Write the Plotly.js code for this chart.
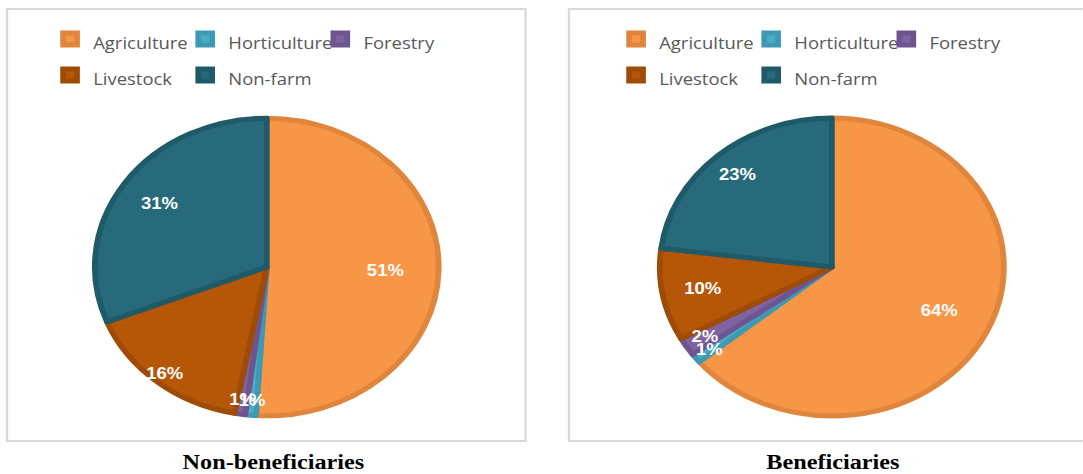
<!DOCTYPE html>
<html><head><meta charset="utf-8">
<script src="https://cdn.plot.ly/plotly-3.0.1.min.js"></script>
<style>
body{margin:0;background:#fff;overflow:hidden;}
.half{position:absolute;top:0;height:474px;transform-origin:0 0;}
</style>
</head><body>
<div id="left" class="half"></div><div id="right" class="half"></div>
<script>
// ---- data ----
const categories = ['Agriculture', 'Horticulture', 'Forestry', 'Livestock', 'Non-farm'];
const nonBeneficiaries = [51, 1, 1, 16, 31];
const beneficiaries = [64, 1, 2, 10, 23];
const groupTitles = ['Non-beneficiaries', 'Beneficiaries'];
const fillColors = ['#F79646', '#4BACC6', '#8064A2', '#B65708', '#276A7C'];
const edgeColors = ['#E0863C', '#3E9AB3', '#6F5590', '#9E4B06', '#1F5A69'];

// ---- layout helpers (screen px -> native) ----
const S = 1.155;           // horizontal stretch of the reference
const H = 474;

function drawHalf(id, divLeft, divWidth, values, title, g) {
  const el = document.getElementById(id);
  const W = divWidth / S;
  const ML = g.ml, MR = g.mr;
  el.style.left = divLeft + 'px';
  el.style.width = W + 'px';
  el.style.transform = 'scaleX(' + S + ')';
  const gw = W - ML - MR;
  const nat = sx => (sx - divLeft) / S;
  const px = sx => (nat(sx) - ML) / gw;
  const py = sy => (H - sy) / H;
  const dom = r => ({
    x: [(nat(g.cx) - r - ML) / gw, (nat(g.cx) + r - ML) / gw],
    y: [(H - g.cy - r) / H, (H - g.cy + r) / H]
  });
  const legendLabels = categories.map(c => '<span style="font-size:16px">' + c + '</span>');
  const clear = categories.map(() => 'rgba(0,0,0,0)');
  const tfont = {family: 'Liberation Sans', size: 16, color: '#ffffff', weight: 'bold'};
  const base = {
    type: 'pie', labels: legendLabels, values: values, sort: false,
    direction: 'clockwise', rotation: 0,
    textposition: 'inside', insidetextorientation: 'horizontal', textfont: tfont
  };
  const main = Object.assign({}, base, {
    marker: {colors: fillColors, line: {color: edgeColors, width: 5}},
    textinfo: 'none', hoverinfo: 'label+percent', domain: dom(g.r)
  });
  // text carriers (transparent) so labels sit on top of all slices
  const carrier = (keep, k) => Object.assign({}, base, {
    marker: {colors: clear, line: {width: 0}}, showlegend: false, hoverinfo: 'skip',
    texttemplate: values.map(v => keep(v) ? '%{percent}' : ''), domain: dom(g.r * k)
  });
  const bigText = carrier(v => v >= 15, g.k);
  const midText = carrier(v => v >= 5 && v < 15, 1);
  const smallText = carrier(v => v < 5, 0.93);
  const layout = {
    width: W, height: H,
    margin: {l: ML, r: MR, t: 0, b: 0, pad: 0},
    paper_bgcolor: 'rgba(0,0,0,0)', plot_bgcolor: 'rgba(0,0,0,0)',
    showlegend: true,
    legend: {
      orientation: 'h', x: px(g.legendLeft), xanchor: 'left',
      y: py(g.legendTop), yanchor: 'top', entrywidth: 72,
      font: {family: 'Open Sans', size: 25.4, color: '#595959'},
      bgcolor: 'rgba(0,0,0,0)', traceorder: 'normal'
    },
    uniformtext: {minsize: 16, mode: 'show'},
    shapes: [{
      type: 'rect', xref: 'paper', yref: 'paper',
      x0: px(g.box[0]), x1: px(g.box[1]), y0: py(g.box[3]), y1: py(g.box[2]),
      line: {color: '#D9D9D9', width: 2}, fillcolor: 'rgba(0,0,0,0)', layer: 'below'
    }],
    annotations: [{
      text: title, xref: 'paper', yref: 'paper', x: px(g.titleX), y: py(g.titleY),
      xanchor: 'center', yanchor: 'middle', showarrow: false,
      font: {family: 'Liberation Serif', size: 21, color: '#000000', weight: 'bold'}
    }]
  };
  Plotly.newPlot(el, [main, bigText, midText, smallText], layout, {displayModeBar: false, staticPlot: true});
}

drawHalf('left', 0, 541, nonBeneficiaries, groupTitles[0],
  {cx: 267, cy: 267, r: 149, k: 1.38, ml: 10, mr: 20, legendLeft: 47, legendTop: 16,
   box: [7, 526, 9, 441], titleX: 273, titleY: 462});
drawHalf('right', 541, 542, beneficiaries, groupTitles[1],
  {cx: 832, cy: 267, r: 149, k: 1.38, ml: 30, mr: 5, legendLeft: 613, legendTop: 16,
   box: [569, 1088, 9, 441], titleX: 833, titleY: 462});
</script>
</body></html>
